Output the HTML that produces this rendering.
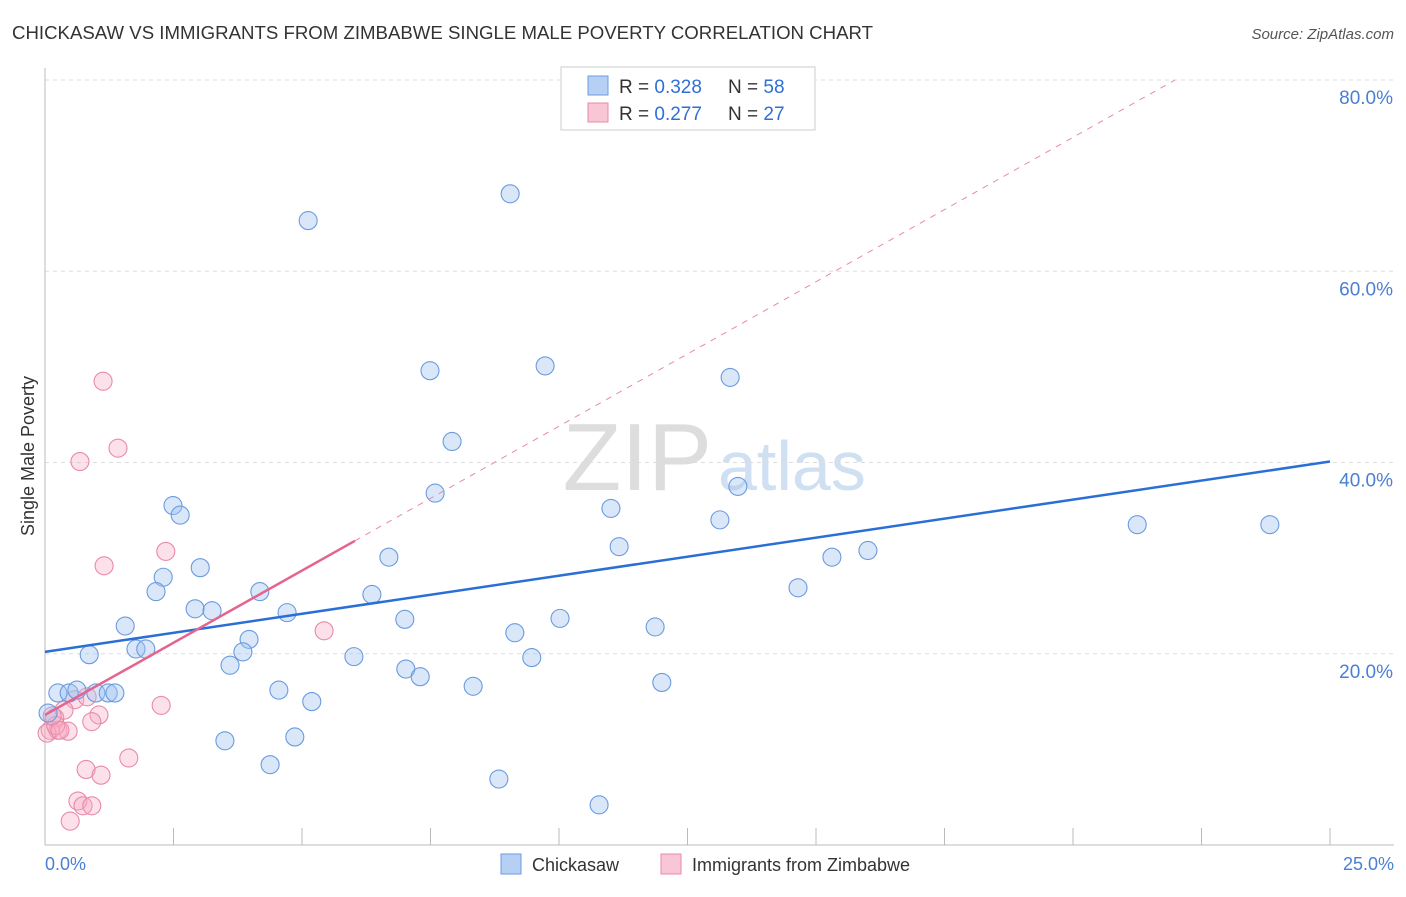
<!DOCTYPE html>
<html><head><meta charset="utf-8"><style>
body{margin:0;background:#fff;font-family:"Liberation Sans",sans-serif;}
svg text{font-family:"Liberation Sans",sans-serif;}
</style></head><body>
<svg width="1406" height="892" xmlns="http://www.w3.org/2000/svg">
<text x="12" y="39" font-size="18" fill="#333" textLength="861" lengthAdjust="spacingAndGlyphs">CHICKASAW VS IMMIGRANTS FROM ZIMBABWE SINGLE MALE POVERTY CORRELATION CHART</text>
<text x="1394" y="39" font-size="15" fill="#555" font-style="italic" text-anchor="end">Source: ZipAtlas.com</text>
<text x="712" y="490" font-size="96" fill="#ddd" text-anchor="end" font-family="Liberation Serif">ZIP</text>
<text x="718" y="490" font-size="70" fill="#cfe0f3">atlas</text>
<g id="grid"></g>
<line x1="45" y1="68" x2="45" y2="845" stroke="#bbb"/>
<line x1="45" y1="845" x2="1394" y2="845" stroke="#bbb"/>
<text x="34" y="456" font-size="18" fill="#333" text-anchor="middle" transform="rotate(-90 34 456)">Single Male Poverty</text>
<text x="45" y="870" font-size="18" fill="#4a7fd4">0.0%</text>
<text x="1394" y="870" font-size="18" fill="#4a7fd4" text-anchor="end">25.0%</text>
<g id="pts"></g>
<g id="trend"></g>
<g>
<rect x="561" y="67" width="254" height="63" fill="#fff" stroke="#ccc"/>
<rect x="588" y="76" width="20" height="19" fill="#b6d0f4" stroke="#6a9be0"/>
<rect x="588" y="103" width="20" height="19" fill="#f8c6d5" stroke="#e88aa8"/>
<text x="619" y="93" font-size="19" fill="#333">R = <tspan fill="#2f6fd6">0.328</tspan></text>
<text x="728" y="93" font-size="19" fill="#333">N = <tspan fill="#2f6fd6">58</tspan></text>
<text x="619" y="120" font-size="19" fill="#333">R = <tspan fill="#2f6fd6">0.277</tspan></text>
<text x="728" y="120" font-size="19" fill="#333">N = <tspan fill="#2f6fd6">27</tspan></text>
</g>
<g>
<rect x="501" y="854" width="20" height="20" fill="#b6d0f4" stroke="#6a9be0"/>
<text x="532" y="871" font-size="18" fill="#333">Chickasaw</text>
<rect x="661" y="854" width="20" height="20" fill="#f8c6d5" stroke="#e88aa8"/>
<text x="692" y="871" font-size="18" fill="#333">Immigrants from Zimbabwe</text>
</g>
</svg>
<script>
const yTicks=[20,40,60,80];
const yTickLabels=["20.0%","40.0%","60.0%","80.0%"];
const xTicks=[0,2.5,5,7.5,10,12.5,15,17.5,20,22.5,25];
const blueX=[5.12,9.05,7.49,9.73,13.33,7.92,7.59,13.48,2.49,2.63,11.01,13.13,11.17,6.69,15.31,16.01,21.25,23.83,2.30,3.02,2.16,4.18,6.36,14.65,2.92,3.25,4.71,7.00,10.02,1.56,11.87,9.14,3.97,1.77,1.96,3.85,0.86,6.01,9.47,3.60,7.02,7.30,8.33,12.00,0.25,0.47,0.62,0.99,1.23,1.36,4.55,5.19,0.06,3.50,4.86,4.38,8.83,10.78];
const blueY=[65.3,68.1,49.6,50.1,48.9,42.2,36.8,37.5,35.5,34.5,35.2,34.0,31.2,30.1,30.1,30.8,33.5,33.5,28.0,29.0,26.5,26.5,26.2,26.9,24.7,24.5,24.3,23.6,23.7,22.9,22.8,22.2,21.5,20.5,20.5,20.2,19.9,19.7,19.6,18.8,18.4,17.6,16.6,17.0,15.9,15.9,16.2,15.9,15.9,15.9,16.2,15.0,13.8,10.9,11.3,8.4,6.9,4.2];
const pinkX=[1.13,1.42,0.68,2.35,1.15,5.43,2.26,0.58,0.82,0.37,1.05,0.91,0.19,0.10,0.25,0.45,0.04,0.21,1.63,0.80,1.09,0.64,0.74,0.91,0.49,0.29,0.14];
const pinkY=[48.5,41.5,40.1,30.7,29.2,22.4,14.6,15.2,15.5,14.1,13.6,12.9,13.3,12.0,12.0,11.9,11.7,12.5,9.1,7.9,7.3,4.6,4.1,4.1,2.5,12.0,13.5];
const blueTrend=[20.2,0.796];
const pinkTrend=[13.6,3.02];
const pinkSolidEnd=6.03;

const NS="http://www.w3.org/2000/svg";
const X=v=>45+v*(1330-45)/25;
const Y=v=>845-v*(845-80)/80;
function mk(t,a,p){const e=document.createElementNS(NS,t);for(const k in a)e.setAttribute(k,a[k]);p.appendChild(e);return e;}
const grid=document.getElementById('grid');
yTicks.forEach((t,i)=>{
 const l=mk('line',{x1:45,x2:1394,y1:Y(t),y2:Y(t),stroke:'#ddd','stroke-dasharray':'4,4'},grid);
 
 
 const tx=mk('text',{x:1393,y:Y(t)+24,'font-size':19,fill:'#4a7fd4','text-anchor':'end'},grid);
 tx.textContent=yTickLabels[i];
 
 
});
xTicks.forEach(t=>{
 const l=mk('line',{x1:X(t),x2:X(t),y1:828,y2:845,stroke:'#bbb'},grid);
 
 
});
const pts=document.getElementById('pts');
pinkX.forEach((x,i)=>{
 const c=mk('circle',{cx:X(x),cy:Y(pinkY[i]),r:9,fill:'rgba(245,170,195,0.35)',stroke:'#e88aa8','stroke-width':1.1},pts);
 
 
});
blueX.forEach((x,i)=>{
 const c=mk('circle',{cx:X(x),cy:Y(blueY[i]),r:9,fill:'rgba(160,195,240,0.4)',stroke:'#6a9be0','stroke-width':1.1},pts);
 
 
});
const tr=document.getElementById('trend');
const bl=mk('line',{x1:X(0),y1:Y(blueTrend[0]),x2:X(25),y2:Y(blueTrend[0]+blueTrend[1]*25),stroke:'#2a6fd6','stroke-width':2.5},tr);


const xEnd=(80-pinkTrend[0])/pinkTrend[1];
const pd=mk('line',{x1:X(pinkSolidEnd),y1:Y(pinkTrend[0]+pinkTrend[1]*pinkSolidEnd),x2:X(xEnd),y2:Y(80),stroke:'#e88aa8','stroke-width':1,'stroke-dasharray':'6,6'},tr);


const pl=mk('line',{x1:X(0),y1:Y(pinkTrend[0]),x2:X(pinkSolidEnd),y2:Y(pinkTrend[0]+pinkTrend[1]*pinkSolidEnd),stroke:'#e4648f','stroke-width':2.5},tr);


</script>
</body></html>
